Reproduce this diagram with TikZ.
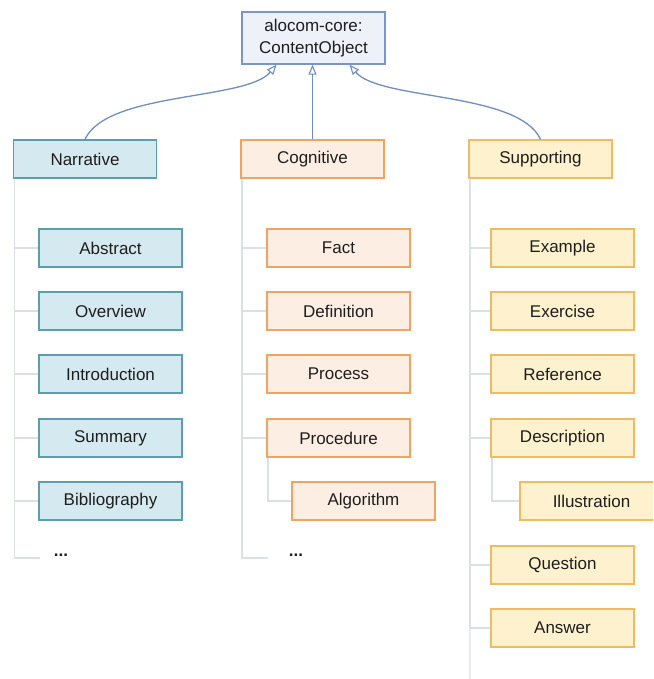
\documentclass[tikz,border=0pt]{standalone}
\usepackage{fontspec}
\setmainfont{Liberation Sans}
\usetikzlibrary{arrows.meta}
\definecolor{topfill}{HTML}{EEF1F7}
\definecolor{topdraw}{HTML}{7C96C4}
\definecolor{narfill}{HTML}{D5E9F0}
\definecolor{nardraw}{HTML}{5A9FA9}
\definecolor{cogfill}{HTML}{FDEEE3}
\definecolor{cogdraw}{HTML}{EFA463}
\definecolor{supfill}{HTML}{FEF1CD}
\definecolor{supdraw}{HTML}{EEBB62}
\definecolor{treeline}{HTML}{DCE0E6}
\definecolor{edgeblue}{HTML}{6F8DBE}
\definecolor{txt}{HTML}{1E1E1E}
\tikzset{
  box/.style={draw, line width=1.3pt, minimum width=143pt, minimum height=38pt,
    inner sep=0pt, text=txt, font=\fontsize{17}{22}\selectfont},
  narbox/.style={box, fill=narfill, draw=nardraw},
  cogbox/.style={box, fill=cogfill, draw=cogdraw},
  supbox/.style={box, fill=supfill, draw=supdraw},
  topbox/.style={box, fill=topfill, draw=topdraw, minimum height=52pt, align=center},
  tree/.style={draw=treeline, line width=1.3pt},
  inherit/.style={draw=edgeblue, line width=1.3pt,
    -{Triangle[open, length=10pt, width=8pt, line width=1.1pt]}},
  more/.style={text=txt, font=\fontsize{17}{20}\selectfont\bfseries, inner sep=0pt}
}
\begin{document}
\begin{tikzpicture}[x=1pt, y=-1pt]
\useasboundingbox (0,0) rectangle (653,679);
\clip (0,0) rectangle (653,679);

% superclass
\node[topbox] (top) at (313.5,38) {alocom-core:\\ContentObject};

% the three content categories
\node[narbox] (nar) at (85,159) {Narrative};
\node[cogbox] (cog) at (312.5,159) {Cognitive};
\node[supbox] (sup) at (540.5,159) {Supporting};

% narrative content types
\node[narbox] (abs)   at (110.5,248) {Abstract};
\node[narbox] (ovw)   at (110.5,311) {Overview};
\node[narbox] (intro) at (110.5,374) {Introduction};
\node[narbox] (summ)  at (110.5,438) {Summary};
\node[narbox] (bib)   at (110.5,501) {Bibliography};
\coordinate (narend) at (40,558);
\node[more] (nardots) at (61,555) {...};

% cognitive content types
\node[cogbox] (fact) at (338.5,248) {Fact};
\node[cogbox] (defn) at (338.5,311) {Definition};
\node[cogbox] (proc) at (338.5,374) {Process};
\node[cogbox] (pced) at (338.5,438) {Procedure};
\node[cogbox] (algo) at (363.5,501) {Algorithm};
\coordinate (cogend) at (268,558);
\node[more] (cogdots) at (296,555) {...};

% supporting content types
\node[supbox] (expl) at (562.5,248) {Example};
\node[supbox] (exer) at (562.5,311) {Exercise};
\node[supbox] (refc) at (562.5,374) {Reference};
\node[supbox] (desc) at (562.5,438) {Description};
\node[supbox] (illu) at (591.5,501) {Illustration};
\node[supbox] (ques) at (562.5,565) {Question};
\node[supbox] (answ) at (562.5,628) {Answer};
\coordinate (supend) at (470,685);

% tree branches
\foreach \c in {abs,ovw,intro,summ,bib}
  \draw[tree] ([xshift=1.5pt]nar.south west) |- (\c.west);
\draw[tree] ([xshift=1.5pt]nar.south west) |- (narend);
\foreach \c in {fact,defn,proc,pced}
  \draw[tree] ([xshift=1.5pt]cog.south west) |- (\c.west);
\draw[tree] ([xshift=1.5pt]cog.south west) |- (cogend);
\draw[tree] ([xshift=1.5pt]pced.south west) |- (algo.west);
\foreach \c in {expl,exer,refc,desc,ques,answ}
  \draw[tree] ([xshift=1.5pt]sup.south west) |- (\c.west);
\draw[tree] ([xshift=1.5pt]sup.south west) -- (supend);
\draw[tree] ([xshift=1.5pt]desc.south west) |- (illu.west);

% generalisation arrows
\draw[inherit] (nar.north) .. controls +(22,-48) and +(-30,36) .. ([xshift=-37pt]top.south);
\draw[inherit] (cog.north) -- (cog.north |- top.south);
\draw[inherit] (sup.north) .. controls +(-22,-48) and +(30,36) .. ([xshift=36pt]top.south);
\end{tikzpicture}
\end{document}
